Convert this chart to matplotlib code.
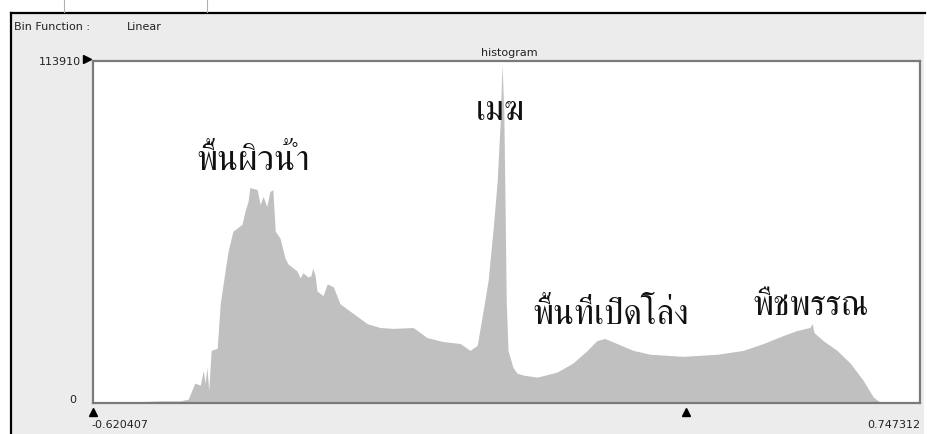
import matplotlib
matplotlib.use("Agg")
import matplotlib.pyplot as plt
from matplotlib.lines import Line2D
from matplotlib.patches import Rectangle

# histogram outline (data value, pixel count)
values = [-0.620, -0.559, -0.510, -0.477, -0.463, -0.452, -0.443, -0.438, -0.435, -0.432,
          -0.429, -0.425, -0.415, -0.410, -0.402, -0.397, -0.389, -0.374, -0.369, -0.364,
          -0.361, -0.354, -0.349, -0.344, -0.339, -0.333, -0.328, -0.323, -0.319, -0.311,
          -0.303, -0.298, -0.283, -0.278, -0.273, -0.265, -0.260, -0.257, -0.253, -0.250,
          -0.240, -0.233, -0.223, -0.212, -0.190, -0.167, -0.146, -0.124, -0.091, -0.068,
          -0.042, -0.013, 0.003, 0.015, 0.024, 0.033, 0.041, 0.048, 0.053, 0.056,
          0.059, 0.061, 0.063, 0.066, 0.074, 0.081, 0.091, 0.114, 0.147, 0.173,
          0.197, 0.213, 0.226, 0.246, 0.273, 0.301, 0.355, 0.412, 0.455, 0.488,
          0.521, 0.544, 0.565, 0.569, 0.572, 0.587, 0.610, 0.632, 0.653, 0.670,
          0.681, 0.747]
counts = [300, 300, 700, 700, 1300, 6700, 6000, 11000, 6700, 12000,
          4300, 17700, 18400, 33400, 44400, 51100, 57800, 60100, 64500, 67800,
          72500, 72100, 71800, 66800, 69500, 66100, 71100, 71800, 57800, 55400,
          48800, 46800, 44400, 42100, 43800, 42400, 42800, 45400, 42800, 37700,
          36100, 40100, 39100, 33400, 30100, 26700, 25400, 25100, 25400, 22000,
          20700, 20000, 17700, 19400, 30100, 41100, 57800, 74500, 94500, 113910,
          97900, 67800, 34400, 17700, 12000, 10000, 9400, 8700, 10400, 13400,
          17700, 21000, 21700, 20000, 17700, 16400, 15700, 16400, 17700, 20000,
          22700, 24400, 25400, 26700, 23700, 21000, 17700, 13400, 7700, 2000,
          300, 0]

x_min, x_max = -0.620407, 0.747312
y_max = 113910
stretch_marks = [-0.620407, 0.361]

labels = ["พื้นผิวน้ำ", "เมฆ", "พื้นที่เปิดโล่ง", "พืชพรรณ"]
label_x = [-0.356, 0.053, 0.236, 0.567]
label_y = [78800, 95500, 27000, 30000]

W, H = 928, 435


def px(x, y):
    return x / W, 1 - y / H


fig = plt.figure(figsize=(W / 100, H / 100), dpi=100, facecolor="white")

# window panel + frame lines
fig.add_artist(Rectangle(px(11, 435), (W - 15) / W, (435 - 14) / H, transform=fig.transFigure,
                         facecolor="#ececec", edgecolor="none", zorder=-5))
fig.add_artist(Line2D([11 / W, 925 / W], [1 - 14 / H] * 2, color="black", lw=1.6))
fig.add_artist(Line2D([11 / W] * 2, [1 - 14 / H, 0], color="black", lw=1.6))
for xx in [64, 207]:
    fig.add_artist(Line2D([xx / W] * 2, [1, 1 - 13 / H], color="#b0b0b0", lw=0.8))

ax = fig.add_axes([93 / W, (435 - 404) / H, (920 - 93) / W, (404 - 62) / H])
ax.set_facecolor("white")
ax.fill_between(values, counts, color="#c0c0c0", lw=0)
ax.set_xlim(x_min, x_max)
ax.set_ylim(0, y_max * 1.01)
ax.set_xticks([])
ax.set_yticks([])
for s in ax.spines.values():
    s.set_color("#7a7a7a")
    s.set_linewidth(1.6)

# class labels (FreeSerif has the thai glyphs)
for t, xv, yv in zip(labels, label_x, label_y):
    ax.text(xv, yv, t, fontsize=25, family=["FreeSerif", "DejaVu Serif"], ha="center",
            va="baseline", color="#111111")

# stretch markers under the axis
ax.plot(stretch_marks, [-0.025] * 2, ls="none", marker="^", ms=6, color="black",
        transform=ax.get_xaxis_transform(), clip_on=False)

ui = dict(fontsize=8, family="DejaVu Sans", color="#222222")
fig.text(*px(14, 27), "Bin Function :", va="center", **ui)
fig.text(*px(127, 27), "Linear", va="center", **ui)
fig.text(*px(509, 53), "histogram", ha="center", va="center", **ui)
fig.text(*px(81, 62), str(y_max), ha="right", va="center", **ui)
fig.text(*px(76, 400), "0", ha="right", va="center", **ui)
fig.text(*px(91, 425), "%.6f" % x_min, ha="left", va="center", **ui)
fig.text(*px(920, 425), "%.6f" % x_max, ha="right", va="center", **ui)
fig.add_artist(Line2D([87 / W], [1 - 60 / H], marker=">", ms=6, color="black", ls="none"))

fig.savefig("out.png", dpi=100, facecolor=fig.get_facecolor())
